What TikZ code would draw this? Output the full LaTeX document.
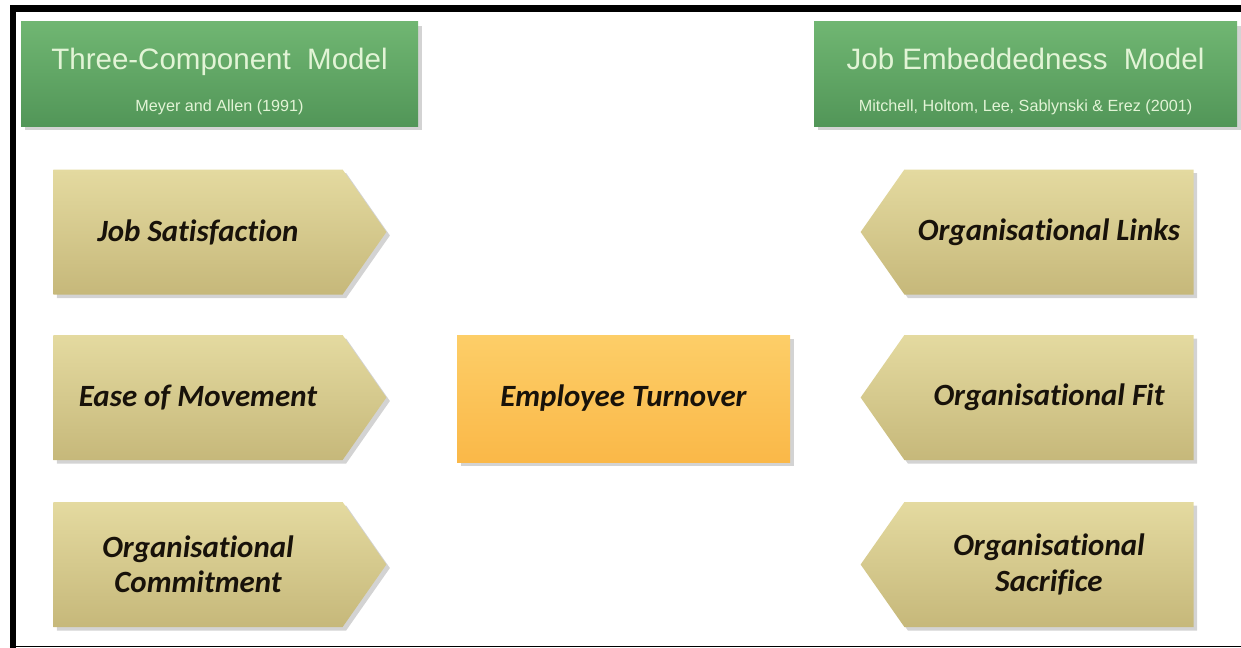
\documentclass[tikz,border=0pt]{standalone}
\usepackage{fontspec}
\setmainfont{Liberation Sans}
\newfontfamily\boxfont[RawFeature={-liga;-dlig}]{Carlito}
\usetikzlibrary{shapes.symbols,shadows}

% colours of the boxes
\definecolor{greentop}{RGB}{112,182,114}
\definecolor{greenbot}{RGB}{82,150,88}
\definecolor{headtext}{RGB}{226,244,214}
\definecolor{tantop}{RGB}{228,218,160}
\definecolor{tanbot}{RGB}{198,184,122}
\definecolor{orangetop}{RGB}{253,206,104}
\definecolor{orangebot}{RGB}{250,184,72}
\definecolor{boxtext}{RGB}{24,18,10}

\begin{document}
\begin{tikzpicture}[
    model/.style={rectangle, top color=greentop, bottom color=greenbot,
      minimum height=2.08cm, align=center, text=headtext, inner sep=0pt,
      drop shadow={shadow xshift=2pt, shadow yshift=-2pt, opacity=.35}},
    factor/.style={signal, signal pointer angle=110, minimum width=6.66cm,
      minimum height=2.5cm, inner sep=0pt, top color=tantop, bottom color=tanbot,
      text=boxtext, align=center,
      font=\boxfont\bfseries\itshape\fontsize{17.6}{20}\selectfont,
      drop shadow={shadow xshift=2pt, shadow yshift=-2pt, opacity=.35}},
    outcome/.style={rectangle, minimum width=6.66cm, minimum height=2.54cm,
      top color=orangetop, bottom color=orangebot, text=boxtext,
      font=\boxfont\bfseries\itshape\fontsize{17.6}{20}\selectfont,
      drop shadow={shadow xshift=2pt, shadow yshift=-2pt, opacity=.35}}
  ]
  \useasboundingbox (0,0) rectangle (24.82,-12.96);

  % frame
  \fill (0.22,-0.1) rectangle (24.82,-0.24);
  \fill (0.2,-0.1) rectangle (0.32,-12.96);
  \draw[line width=.6pt] (0.2,-12.93) -- (24.82,-12.93);

  % the two models
  \node[model, minimum width=7.94cm] (tcm) at (4.39,-1.48)
    {\begin{tabular}{c}\rule{0pt}{22pt}{\fontsize{16.8}{20}\selectfont Three-Component\ \ Model}\\[12pt]
     {\fontsize{9.2}{11}\selectfont Meyer and Allen (1991)}\end{tabular}};
  \node[model, minimum width=8.46cm] (jem) at (20.51,-1.48)
    {\begin{tabular}{c}\rule{0pt}{22pt}{\fontsize{16.8}{20}\selectfont Job Embeddedness\ \ Model}\\[12pt]
     {\fontsize{9.2}{11}\selectfont Mitchell, Holtom, Lee, Sablynski \& Erez (2001)}\end{tabular}};

  % left column
  \begin{scope}[every node/.style={factor, signal to=east}]
    \node (js) at (3.96,-4.64)  {Job Satisfaction};
    \node (em) at (3.96,-7.95)  {Ease of Movement};
    \node (oc) at (3.96,-11.29) {Organisational\\Commitment};
  \end{scope}

  % right column
  \begin{scope}[every node/.style={factor, signal to=west}]
    \node (ol) at (20.98,-4.64)  {Organisational Links};
    \node (of) at (20.98,-7.95)  {Organisational Fit};
    \node (os) at (20.98,-11.29) {Organisational\\Sacrifice};
  \end{scope}

  \node[outcome] (et) at (12.47,-7.97) {Employee Turnover};

\end{tikzpicture}
\end{document}
